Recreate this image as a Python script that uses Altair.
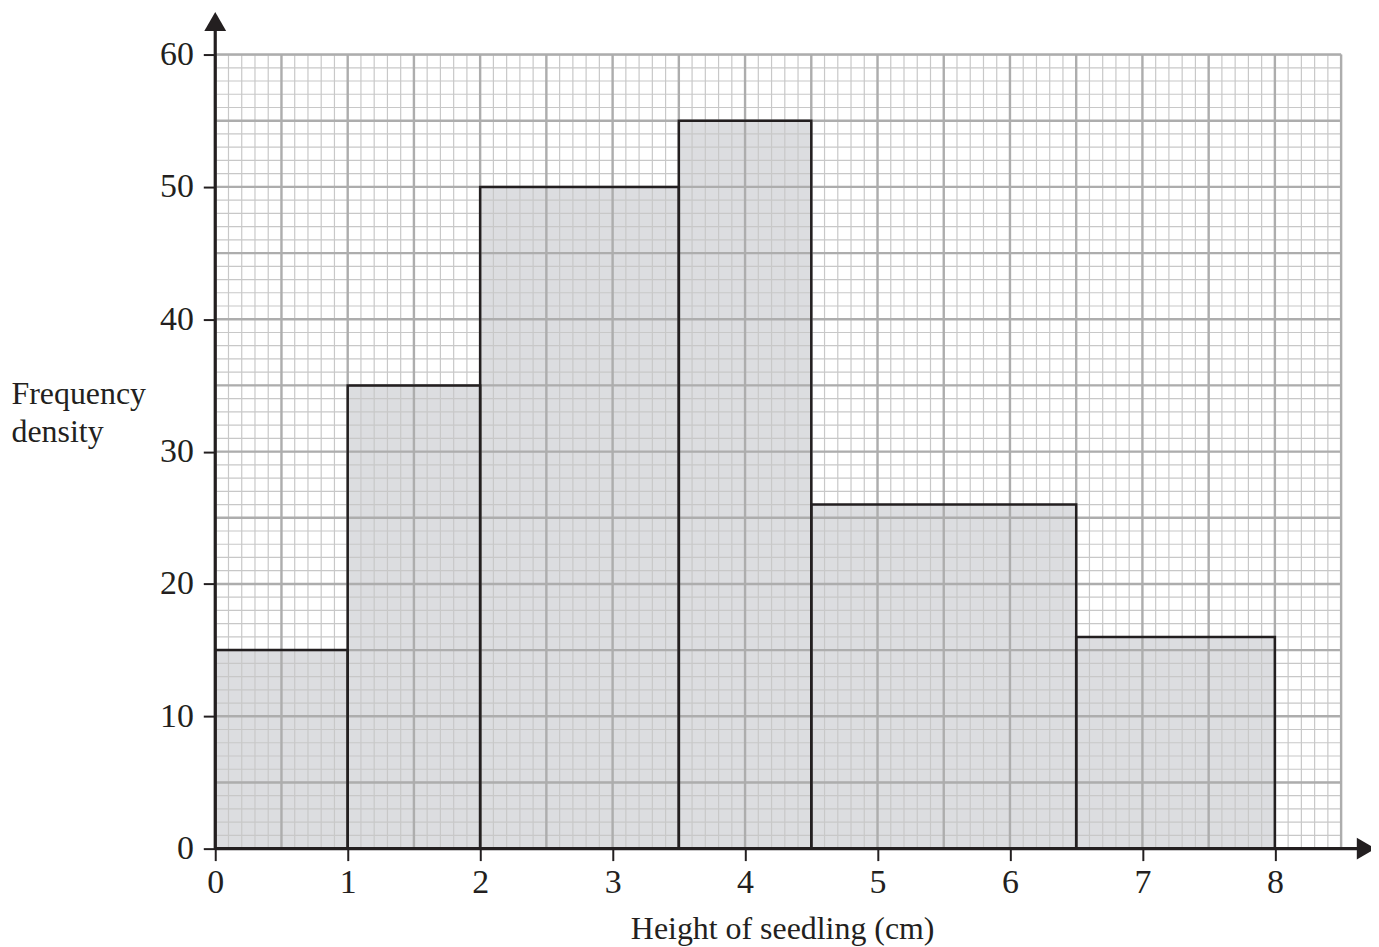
import altair as alt
import pandas as pd

# Histogram classes (height of seedling, cm) and frequency densities
bin_start = [0, 1, 2, 3.5, 4.5, 6.5]
bin_end = [1, 2, 3.5, 4.5, 6.5, 8]
freq_density = [15, 35, 50, 55, 26, 16]

x_ticks = [0, 1, 2, 3, 4, 5, 6, 7, 8]
y_ticks = [0, 10, 20, 30, 40, 50, 60]

X_MAX = 8.5
Y_MAX = 60

# graph-paper grid
minor_x = [round(i * 0.1, 1) for i in range(0, 86)]
major_x = [round(i * 0.5, 1) for i in range(0, 18)]
minor_y = list(range(0, 61))
major_y = list(range(0, 61, 5))

bars = pd.DataFrame({"x0": bin_start, "x1": bin_end, "fd": freq_density,
                     "base": [0] * len(bin_start)})

FONT = "Liberation Serif"
INK = "#231f20"

xs = alt.Scale(domain=[0, X_MAX], nice=False, zero=False)
ys = alt.Scale(domain=[0, Y_MAX], nice=False, zero=False)

x_axis = alt.Axis(
    values=x_ticks, grid=False, domain=False, ticks=True, tickSize=12, tickWidth=2,
    tickColor=INK, labelFont=FONT, labelFontSize=34, labelColor=INK, labelPadding=5,
    labelFlush=False, labelOverlap=False,
    title="Height of seedling (cm)", titleFont=FONT, titleFontSize=32,
    titleFontWeight="normal", titleColor=INK, titleBaseline="alphabetic",
    titleY=90, titleAlign="center", titleX=569,
)
y_axis = alt.Axis(
    values=y_ticks, grid=False, domain=False, ticks=True, tickSize=12, tickWidth=2,
    tickColor=INK, labelFont=FONT, labelFontSize=34, labelColor=INK, labelPadding=10,
    labelFlush=False, labelOverlap=False,
    title=["Frequency", "density"], titleFont=FONT, titleFontSize=32,
    titleFontWeight="normal", titleColor=INK, titleAngle=0, titleAlign="left",
    titleBaseline="alphabetic", titleX=-205, titleY=350, titleLineHeight=38,
)


def X(field):
    return alt.X(field, scale=xs, axis=x_axis)


def Y(field):
    return alt.Y(field, scale=ys, axis=y_axis)


fill = alt.Chart(bars).mark_rect(color="#dcdde0", strokeWidth=0).encode(
    x=X("x0:Q"), x2="x1:Q", y=Y("fd:Q"), y2="base:Q",
)

gv_minor = alt.Chart(pd.DataFrame({"v": minor_x})).mark_rule(
    color="#c8c8c8", strokeWidth=1.2).encode(x=X("v:Q"))
gh_minor = alt.Chart(pd.DataFrame({"v": minor_y})).mark_rule(
    color="#c8c8c8", strokeWidth=1.2).encode(y=Y("v:Q"))
gv_major = alt.Chart(pd.DataFrame({"v": major_x})).mark_rule(
    color="#adadad", strokeWidth=2.4).encode(x=X("v:Q"))
gh_major = alt.Chart(pd.DataFrame({"v": major_y})).mark_rule(
    color="#adadad", strokeWidth=2.4).encode(y=Y("v:Q"))

outline = alt.Chart(bars).mark_rect(fill="transparent", stroke=INK, strokeWidth=2.5).encode(
    x=X("x0:Q"), x2="x1:Q", y=Y("fd:Q"), y2="base:Q",
)

# axis lines with arrowheads
y_line_end = [61.8]
y_arrow_at = [62.5]
x_line_end = [8.62]
x_arrow_at = [8.69]

y_line = alt.Chart(pd.DataFrame({"z": [0], "y1": y_line_end})).mark_rule(
    color=INK, strokeWidth=3.2).encode(x=X("z:Q"), y=Y("z:Q"), y2="y1:Q")
x_line = alt.Chart(pd.DataFrame({"z": [0], "x1": x_line_end})).mark_rule(
    color=INK, strokeWidth=3.2).encode(y=Y("z:Q"), x=X("z:Q"), x2="x1:Q")
y_arrow = alt.Chart(pd.DataFrame({"z": [0], "a": y_arrow_at})).mark_point(
    shape="triangle-up", size=480, filled=True, color=INK, opacity=1).encode(
    x=X("z:Q"), y=Y("a:Q"))
x_arrow = alt.Chart(pd.DataFrame({"z": [0], "a": x_arrow_at})).mark_point(
    shape="triangle-right", size=480, filled=True, color=INK, opacity=1).encode(
    y=Y("z:Q"), x=X("a:Q"))

chart = alt.layer(
    fill, gv_minor, gh_minor, gv_major, gh_major, outline,
    y_line, x_line, y_arrow, x_arrow,
).properties(
    width=1130, height=797,
    autosize=alt.AutoSizeParams(type="none"),
    padding={"left": 208, "top": 45, "right": 30, "bottom": 96},
).configure_view(stroke=None).configure(background="white")

chart.save("out.html", embed_options={"renderer": "svg", "actions": False})
